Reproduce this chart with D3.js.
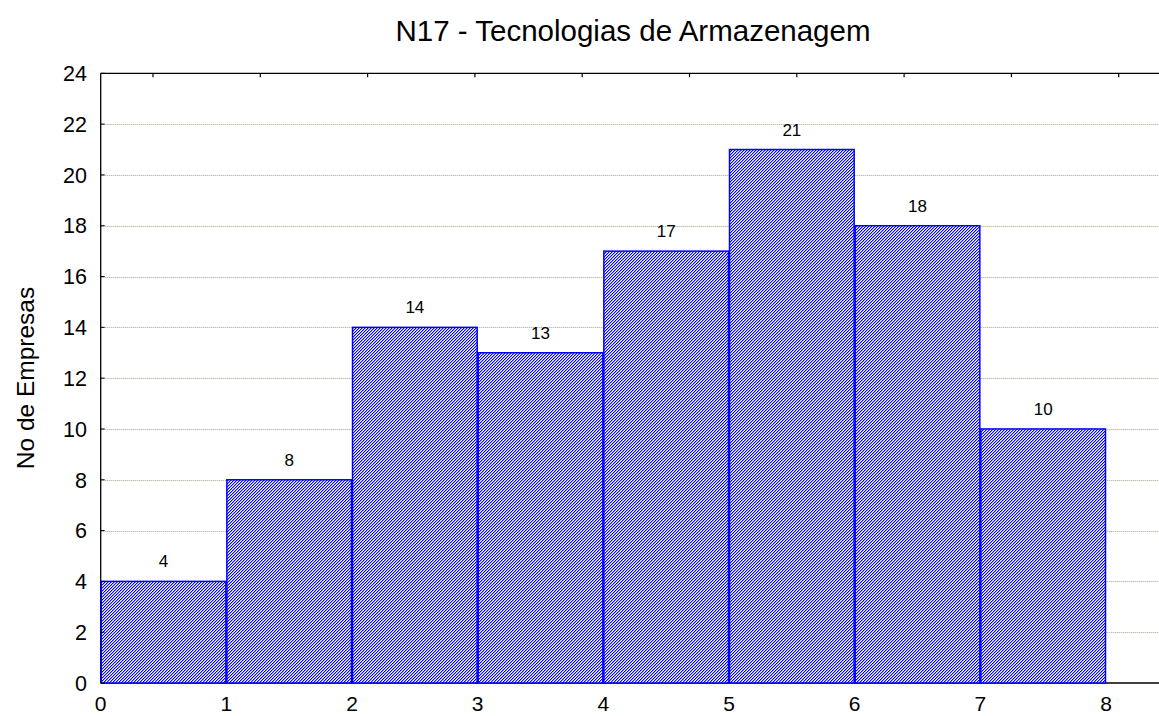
<!DOCTYPE html>
<html>
<head>
<meta charset="utf-8">
<script src="https://cdn.jsdelivr.net/npm/d3@7"></script>
<style>
  html, body { margin: 0; padding: 0; background: #fff; }
  svg { display: block; font-family: Arial, "Liberation Sans", sans-serif; }
</style>
</head>
<body>
<svg id="chart" width="1159" height="716"></svg>
<script>
// Histogram: number of companies per class of storage technologies
const binStarts = [0, 1, 2, 3, 4, 5, 6, 7];
const counts = [4, 8, 14, 13, 17, 21, 18, 10];
const xTicks = [0, 1, 2, 3, 4, 5, 6, 7, 8];
const yTicks = [0, 2, 4, 6, 8, 10, 12, 14, 16, 18, 20, 22, 24];
const topTicks = [0, 1, 2, 3, 4, 5, 6, 7, 8, 9];
const titleText = "N17 - Tecnologias de Armazenagem";
const yTitle = "No de Empresas";

const svg = d3.select("#chart");
const plotLeft = 100.7, plotTop = 73.3, plotBottom = 683, plotRight = 1170;

const x = d3.scaleLinear().domain([0, 8]).range([plotLeft, 1106]);
const y = d3.scaleLinear().domain([0, 24]).range([plotBottom, plotTop]);
const xTop = d3.scaleLinear().domain([0, 1]).range([153, 260.3]);

// hatch fill for the bars: a crisp one-pixel "/" staircase repeated every 3 px
const defs = svg.append("defs");
const pat = defs.append("pattern")
  .attr("id", "hatch")
  .attr("patternUnits", "userSpaceOnUse")
  .attr("width", 3).attr("height", 3);
pat.append("rect").attr("width", 3).attr("height", 3).attr("fill", "#fff");
const stair = [[2, 0], [1, 1], [0, 2]];
pat.selectAll("rect.px")
  .data(stair)
  .join("rect")
  .attr("class", "px")
  .attr("x", d => d[0]).attr("y", d => d[1])
  .attr("width", 1).attr("height", 1)
  .attr("fill", "#0000ff")
  .attr("shape-rendering", "crispEdges");
pat.selectAll("rect.soft")
  .data([[0, 0], [2, 1], [1, 2]])
  .join("rect")
  .attr("class", "soft")
  .attr("x", d => d[0]).attr("y", d => d[1])
  .attr("width", 1).attr("height", 1)
  .attr("fill", "#9a9aff")
  .attr("shape-rendering", "crispEdges");

// dotted horizontal grid
svg.append("g")
  .selectAll("line")
  .data(yTicks.filter(d => d > 0 && d < 24))
  .join("line")
  .attr("x1", plotLeft).attr("x2", plotRight)
  .attr("y1", d => Math.round(y(d)) + 0.5).attr("y2", d => Math.round(y(d)) + 0.5)
  .attr("stroke", "#a4a488")
  .attr("stroke-width", 1)
  .attr("stroke-dasharray", "1,1");

// frame: left axis, top border, bottom axis
svg.append("line").attr("x1", plotLeft).attr("x2", plotRight)
  .attr("y1", plotTop).attr("y2", plotTop).attr("stroke", "#000").attr("stroke-width", 1.3);
svg.append("line").attr("x1", plotLeft).attr("x2", plotRight)
  .attr("y1", plotBottom).attr("y2", plotBottom).attr("stroke", "#000").attr("stroke-width", 1.3);
svg.append("line").attr("x1", plotLeft).attr("x2", plotLeft)
  .attr("y1", plotTop).attr("y2", plotBottom).attr("stroke", "#000").attr("stroke-width", 1.3);

// top border ticks
svg.append("g")
  .selectAll("line")
  .data(topTicks)
  .join("line")
  .attr("x1", d => xTop(d)).attr("x2", d => xTop(d))
  .attr("y1", plotTop).attr("y2", plotTop + 4)
  .attr("stroke", "#000").attr("stroke-width", 1.2);

// bars
const bars = binStarts.map((b, i) => ({ x0: b, x1: b + 1, v: counts[i] }));
svg.append("g")
  .selectAll("rect")
  .data(bars)
  .join("rect")
  .attr("x", d => x(d.x0) + 0.5)
  .attr("y", d => y(d.v))
  .attr("width", d => x(d.x1) - x(d.x0) - 1)
  .attr("height", d => y(0) - y(d.v))
  .attr("fill", "url(#hatch)")
  .attr("stroke", "#0000ff")
  .attr("stroke-width", 1.5);

// value labels
svg.append("g")
  .selectAll("text")
  .data(bars)
  .join("text")
  .attr("x", d => (x(d.x0) + x(d.x1)) / 2)
  .attr("y", d => y(d.v) - 14)
  .attr("text-anchor", "middle")
  .attr("font-size", 17)
  .attr("fill", "#000")
  .text(d => d.v);

// y tick marks and labels
const yAxis = svg.append("g");
yAxis.selectAll("line")
  .data(yTicks)
  .join("line")
  .attr("x1", plotLeft).attr("x2", plotLeft + 4)
  .attr("y1", d => y(d)).attr("y2", d => y(d))
  .attr("stroke", "#000");
yAxis.selectAll("text")
  .data(yTicks)
  .join("text")
  .attr("x", 87)
  .attr("y", d => y(d))
  .attr("dy", "0.36em")
  .attr("text-anchor", "end")
  .attr("font-size", 21.5)
  .attr("fill", "#000")
  .text(d => d);

// x tick labels
svg.append("g")
  .selectAll("text")
  .data(xTicks)
  .join("text")
  .attr("x", d => x(d))
  .attr("y", 711)
  .attr("text-anchor", "middle")
  .attr("font-size", 21)
  .attr("fill", "#000")
  .text(d => d);

// title
svg.append("text")
  .attr("x", 633).attr("y", 41)
  .attr("text-anchor", "middle")
  .attr("font-size", 29.5)
  .attr("fill", "#000")
  .text(titleText);

// y-axis title
svg.append("text")
  .attr("transform", "translate(34,378) rotate(-90)")
  .attr("text-anchor", "middle")
  .attr("font-size", 24.5)
  .attr("fill", "#000")
  .text(yTitle);
</script>
</body>
</html>
